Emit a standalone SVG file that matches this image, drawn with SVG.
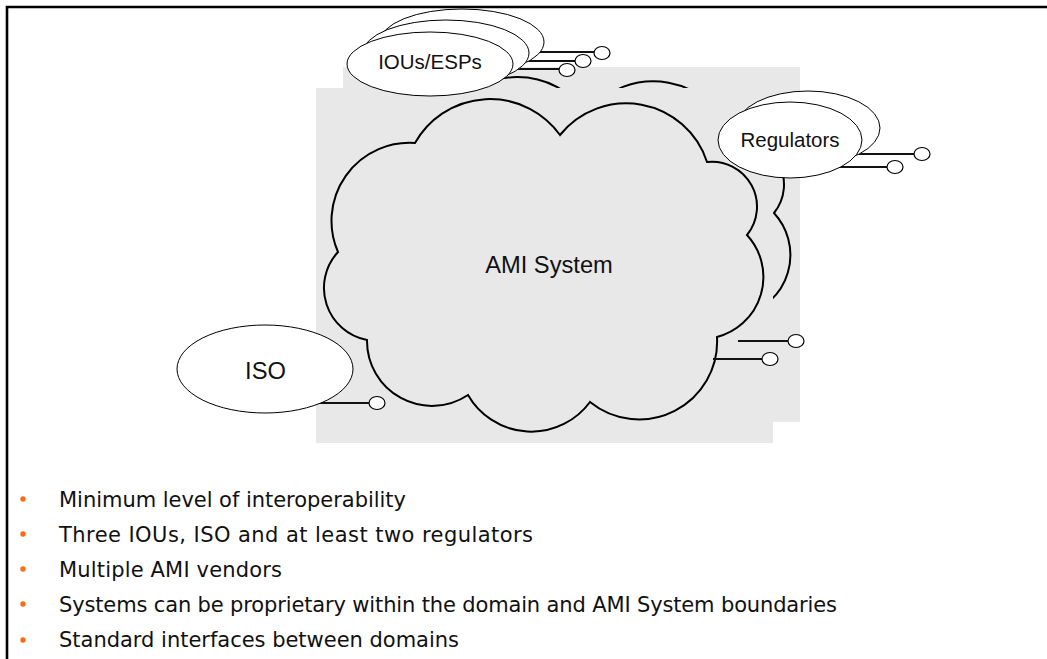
<svg xmlns="http://www.w3.org/2000/svg" width="1047" height="659" viewBox="0 0 1047 659">
  <defs>
    <style>
      .panel { fill: #e8e8e8; stroke: none; }
      .cloud { fill: #e8e8e8; stroke: #000; stroke-width: 2; stroke-linejoin: miter; }
      .node { fill: #fff; stroke: #000; stroke-width: 1; }
      .link { stroke: #111; stroke-width: 2; fill: none; }
      .port { fill: #fff; stroke: #000; stroke-width: 1.2; }
      .label { font-family: "Liberation Sans", Arial, sans-serif; fill: #111; text-anchor: middle; }
      .bullet-text { font-family: "DejaVu Sans", Verdana, sans-serif; font-size: 21px; fill: #111; }
      .dot { fill: #ff6a13; }
    </style>
    <path id="cloud-shape" d="M415,143 A86,86 0 0 1 560,135 A85,85 0 0 1 707,162 A45,45 0 0 1 747,235 A62,62 0 0 1 717,337 A78,78 0 0 1 590,402 A73,73 0 0 1 468,395 A65,65 0 0 1 367,340 A53,53 0 0 1 338,252 A78,78 0 0 1 415,143 Z"/>
  </defs>

  <rect width="1047" height="659" fill="#fff"/>

  <!-- outer frame -->
  <path d="M7,660 V7 H1048" fill="none" stroke="#000" stroke-width="2.6"/>

  <!-- rear AMI layer, mostly hidden by the front panel -->
  <g id="ami-rear">
    <rect class="panel" x="343" y="67" width="457" height="355"/>
    <use href="#cloud-shape" class="cloud" transform="translate(27,-22)"/>
  </g>

  <!-- front AMI layer -->
  <g id="ami-system">
    <rect class="panel" x="316" y="88" width="457" height="355"/>
    <use href="#cloud-shape" class="cloud"/>
    <text class="label" x="549" y="273" font-size="23.7">AMI System</text>
  </g>

  <!-- interface stubs -->
  <g id="connectors">
    <line class="link" x1="500" y1="52" x2="594" y2="52"/>
    <line class="link" x1="490" y1="61" x2="575" y2="61"/>
    <line class="link" x1="480" y1="69" x2="559" y2="69"/>
    <line class="link" x1="820" y1="154" x2="914" y2="154"/>
    <line class="link" x1="800" y1="167" x2="887" y2="167"/>
    <line class="link" x1="738" y1="341" x2="788" y2="341"/>
    <line class="link" x1="713" y1="359" x2="762" y2="359"/>
    <line class="link" x1="300" y1="403" x2="369" y2="403"/>
  </g>

  <g id="iou-esps">
    <ellipse class="node" cx="462" cy="42" rx="82" ry="33"/>
    <ellipse class="node" cx="446" cy="53" rx="83" ry="33"/>
    <ellipse class="node" cx="430" cy="64" rx="83" ry="32"/>
    <text class="label" x="430" y="69" font-size="20.5">IOUs/ESPs</text>
  </g>

  <g id="regulators">
    <ellipse class="node" cx="808" cy="128" rx="72" ry="37"/>
    <ellipse class="node" cx="790" cy="140" rx="72" ry="38"/>
    <text class="label" x="790" y="147" font-size="20.5">Regulators</text>
  </g>

  <g id="iso">
    <ellipse class="node" cx="265" cy="369" rx="88" ry="44"/>
    <text class="label" x="265.5" y="379" font-size="23.7">ISO</text>
  </g>

  <!-- port circles at the end of each stub -->
  <g id="ports">
    <ellipse class="port" cx="602" cy="53" rx="8" ry="6.5"/>
    <ellipse class="port" cx="583" cy="61" rx="8" ry="6.5"/>
    <ellipse class="port" cx="567" cy="70" rx="8" ry="6.5"/>
    <ellipse class="port" cx="922" cy="154" rx="8" ry="6.5"/>
    <ellipse class="port" cx="895" cy="167" rx="8" ry="6.5"/>
    <ellipse class="port" cx="796" cy="341" rx="8" ry="6.5"/>
    <ellipse class="port" cx="770" cy="359" rx="8" ry="6.5"/>
    <ellipse class="port" cx="377" cy="403" rx="8" ry="6.5"/>
  </g>

  <!-- bullet list -->
  <g id="notes">
    <circle class="dot" cx="23" cy="499" r="2.7"/>
    <circle class="dot" cx="23" cy="534" r="2.7"/>
    <circle class="dot" cx="23" cy="569" r="2.7"/>
    <circle class="dot" cx="23" cy="604" r="2.7"/>
    <circle class="dot" cx="23" cy="640" r="2.7"/>
    <text class="bullet-text" x="59" y="507" textLength="347" lengthAdjust="spacing">Minimum level of interoperability</text>
    <text class="bullet-text" x="59" y="542" textLength="474" lengthAdjust="spacing">Three IOUs, ISO and at least two regulators</text>
    <text class="bullet-text" x="59" y="577" textLength="223" lengthAdjust="spacing">Multiple AMI vendors</text>
    <text class="bullet-text" x="59" y="612" textLength="778" lengthAdjust="spacing">Systems can be proprietary within the domain and AMI System boundaries</text>
    <text class="bullet-text" x="59" y="647" textLength="400" lengthAdjust="spacing">Standard interfaces between domains</text>
  </g>
</svg>
